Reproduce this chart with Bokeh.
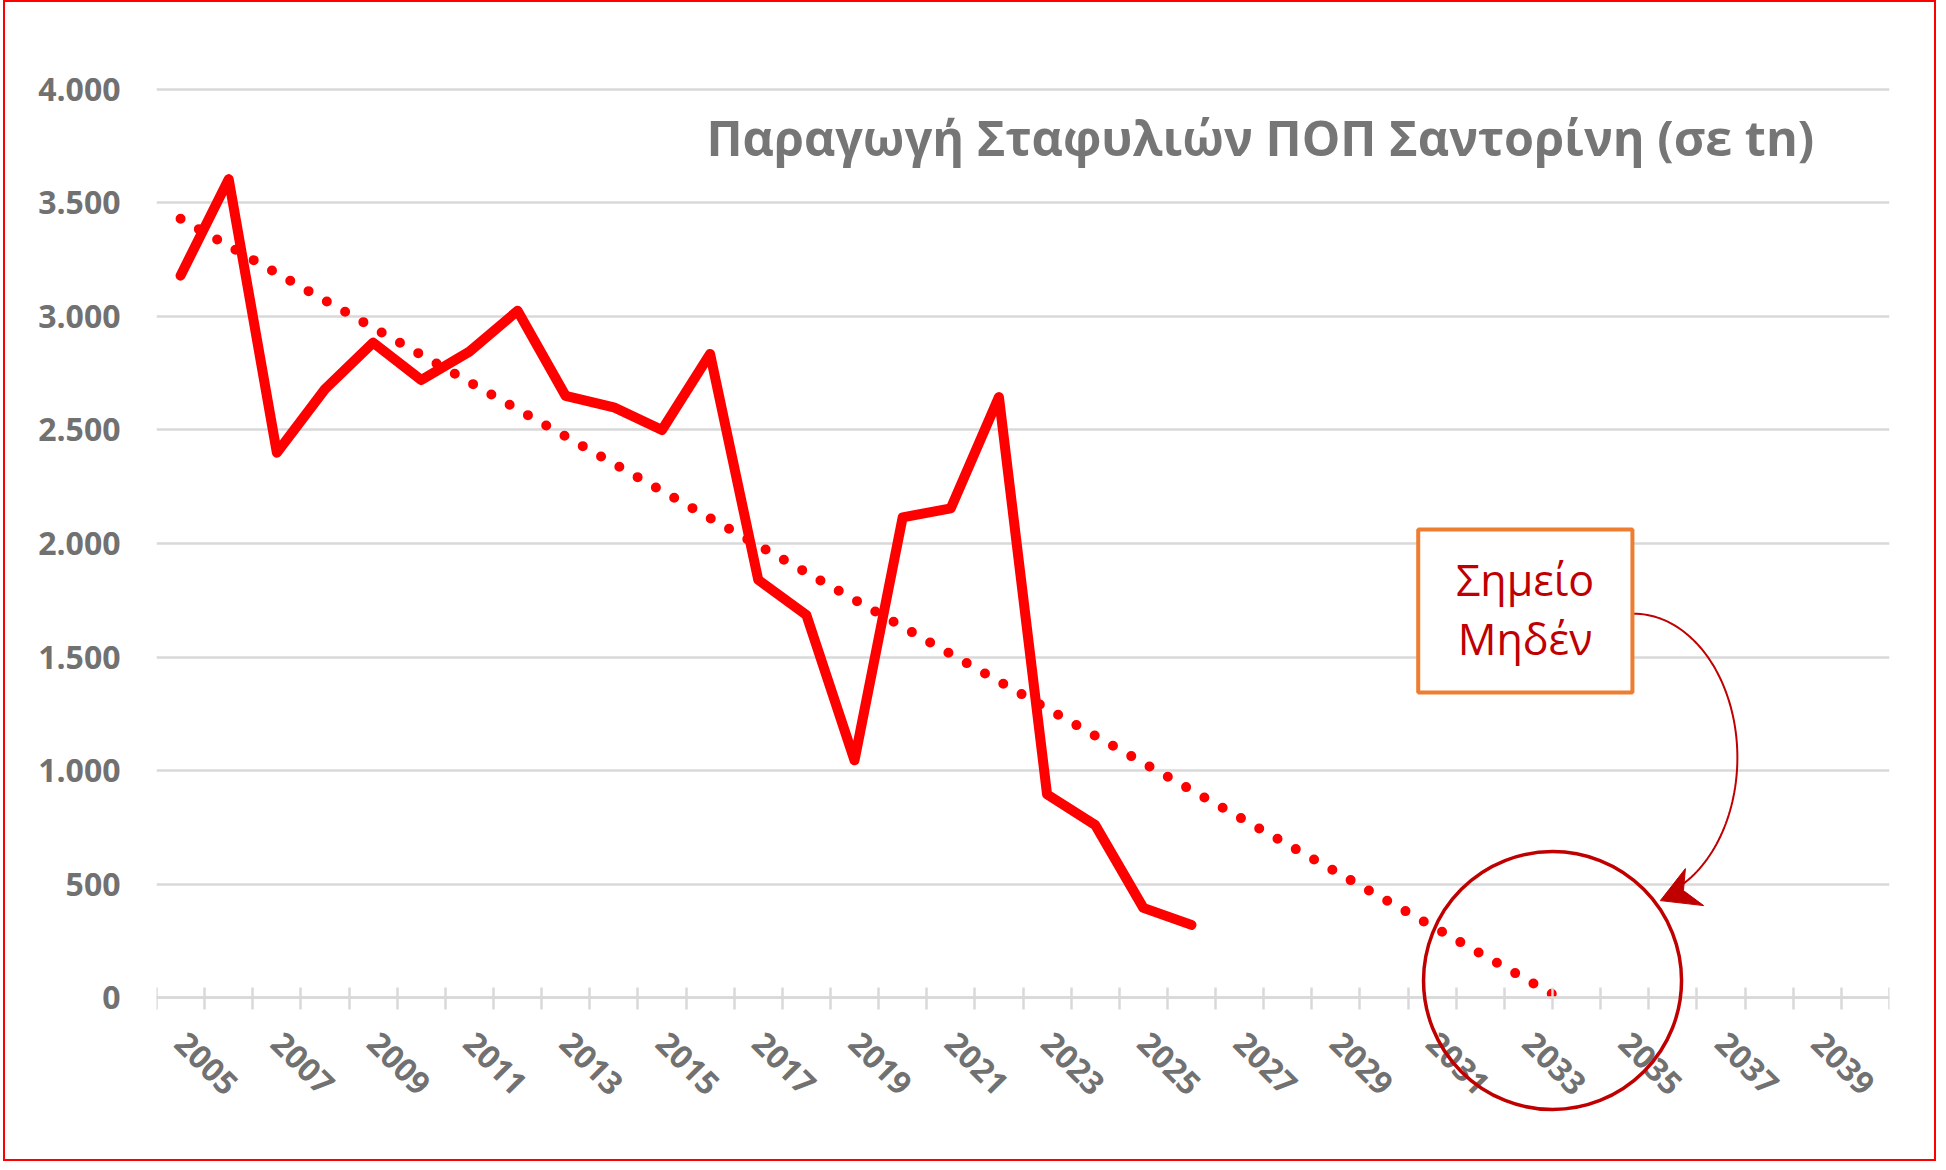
import numpy as np
from bokeh.plotting import figure
from bokeh.models import FixedTicker, Range1d, Label, BoxAnnotation
from bokeh.embed import file_html
from bokeh.resources import INLINE

# ---- data ----
years = [2005, 2006, 2007, 2008, 2009, 2010, 2011, 2012, 2013, 2014, 2015,
         2016, 2017, 2018, 2019, 2020, 2021, 2022, 2023, 2024, 2025, 2026]
production = [3180, 3605, 2400, 2680, 2885, 2720, 2845, 3025, 2650, 2600, 2500,
              2835, 1840, 1685, 1045, 2115, 2155, 2645, 895, 760, 395, 320]
axis_years = list(range(2005, 2041))
x_label_years = list(range(2005, 2040, 2))
x_tick_labels = [str(y) for y in x_label_years]
y_ticks = [0, 500, 1000, 1500, 2000, 2500, 3000, 3500, 4000]
y_tick_labels = ["0", "500", "1.000", "1.500", "2.000", "2.500", "3.000", "3.500", "4.000"]
title_text = "Παραγωγή Σταφυλιών ΠΟΠ Σαντορίνη (σε tn)"
note_lines = ["Σημείο", "Μηδέν"]

# linear trend (least squares) extended until it reaches zero
slope, intercept = np.polyfit(years, production, 1)
x_zero = -intercept / slope
trend_x = [years[0], x_zero]
trend_y = [slope * years[0] + intercept, 0.0]

GRAY = "#717171"
GRID = "#d9d9d9"
DARKRED = "#c00000"

p = figure(width=1933, height=1161, output_backend="svg", toolbar_location=None,
           x_range=Range1d(axis_years[0] - 0.5, axis_years[-1] + 0.5),
           y_range=Range1d(-709, 4361),
           min_border_left=151, min_border_right=49, min_border_top=5, min_border_bottom=5,
           background_fill_color="white", border_fill_color="white")
p.outline_line_color = None
p.styles = {"border": "2px solid #ff0000", "margin-left": "3px"}

# x axis (category style, ticks at boundaries)
boundaries = [y - 0.5 for y in axis_years] + [axis_years[-1] + 0.5]
p.xaxis.ticker = FixedTicker(ticks=x_label_years, minor_ticks=boundaries)
p.xaxis.major_label_overrides = dict(zip(x_label_years, x_tick_labels))
p.xaxis.fixed_location = 0
p.xaxis.axis_line_color = GRID
p.xaxis.axis_line_width = 2.5
p.xaxis.major_tick_line_color = None
p.xaxis.major_tick_in = 0
p.xaxis.major_tick_out = 0
p.xaxis.minor_tick_line_color = GRID
p.xaxis.minor_tick_line_width = 2.5
p.xaxis.minor_tick_in = 10
p.xaxis.minor_tick_out = 12
p.xaxis.major_label_orientation = -np.pi / 4
p.xaxis.major_label_standoff = 28
p.xaxis.major_label_text_font = "Open Sans"
p.xaxis.major_label_text_font_style = "bold"
p.xaxis.major_label_text_font_size = "32px"
p.xaxis.major_label_text_color = GRAY

# y axis
p.yaxis.ticker = FixedTicker(ticks=y_ticks)
p.yaxis.major_label_overrides = dict(zip(y_ticks, y_tick_labels))
p.yaxis.axis_line_color = None
p.yaxis.major_tick_line_color = None
p.yaxis.minor_tick_line_color = None
p.yaxis.major_tick_out = 0
p.yaxis.major_tick_in = 0
p.yaxis.major_label_standoff = 36
p.yaxis.major_label_text_font = "Open Sans"
p.yaxis.major_label_text_font_style = "bold"
p.yaxis.major_label_text_font_size = "32px"
p.yaxis.major_label_text_color = GRAY

p.xgrid.grid_line_color = None
p.ygrid.ticker = FixedTicker(ticks=y_ticks)
p.ygrid.grid_line_color = GRID
p.ygrid.grid_line_width = 2.5

# data line and trend
p.line(years, production, line_color="#ff0000", line_width=10,
       line_join="round", line_cap="round")
p.line(trend_x, trend_y, line_color="#ff0000", line_width=10,
       line_dash="0 21", line_cap="round")

# title
p.add_layout(Label(x=2027.43, y=3789, text=title_text, text_align="center",
                   text_baseline="alphabetic", text_font="Open Sans",
                   text_font_style="bold", text_font_size="48.5px", text_color="#767676"))

# annotation box
p.add_layout(BoxAnnotation(left=2030.71, right=2035.16, bottom=1344, top=2062,
                           fill_color="white", fill_alpha=1.0,
                           line_color="#ed7d31", line_width=4, line_alpha=1.0))
for txt, yy in zip(note_lines, [1843, 1583]):
    p.add_layout(Label(x=2032.93, y=yy, text=txt, text_align="center",
                       text_baseline="alphabetic", text_font="Open Sans",
                       text_font_size="43px", text_color=DARKRED))

# curved arrow
t = np.radians(np.linspace(-90, 62, 80))
arc_x = 2035.18 + 2.16 * np.cos(t)
arc_y = 1057 - 634 * np.sin(t)
p.line(arc_x, arc_y, line_color=DARKRED, line_width=2)
p.patch([2035.74, 2036.26, 2036.22, 2036.64], [427, 568, 471, 405],
        fill_color=DARKRED, line_color=DARKRED, line_width=1)

# circle around zero point
p.scatter([2033.5], [75], marker="circle", size=258, fill_color=None,
          line_color=DARKRED, line_width=3.5, level="overlay")

open("out.html", "w").write(file_html(p, INLINE))
